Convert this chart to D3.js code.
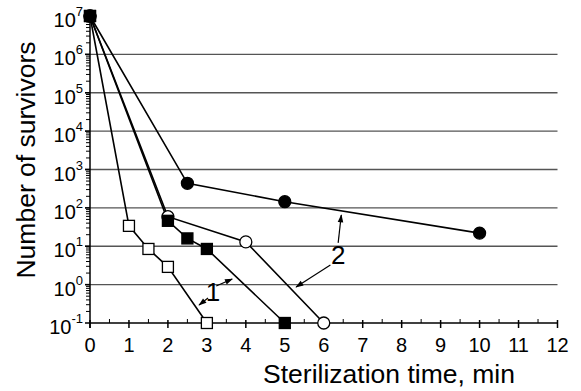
<!DOCTYPE html>
<html>
<head>
<meta charset="utf-8">
<script src="https://cdn.jsdelivr.net/npm/d3@7"></script>
<style>
  body { margin: 0; background: #fff; }
  #chart text { font-family: "Liberation Sans", Arial, sans-serif; fill: #000; }
</style>
</head>
<body>
<svg id="chart" width="581" height="391"></svg>
<script>
// open squares (curve 1, first set)
var timeOpenSq = [0, 1, 1.5, 2, 3];
var countOpenSq = [1e7, 34, 8.5, 2.9, 0.1];
// filled squares (curve 1, second set)
var timeFilledSq = [0, 2, 2.5, 3, 5];
var countFilledSq = [1e7, 46, 16, 8.5, 0.1];
// open circles (curve 2, first set)
var timeOpenCirc = [0, 2, 4, 6];
var countOpenCirc = [1e7, 59, 13, 0.1];
// filled circles (curve 2, second set)
var timeFilledCirc = [0, 2.5, 5, 10];
var countFilledCirc = [1e7, 437, 145, 22];

var xTicks = d3.range(0, 13, 1);
var xMinorTicks = d3.range(0.5, 12, 1);
var yExponents = [-1, 0, 1, 2, 3, 4, 5, 6, 7];

// annotation labels and arrows, in data units [time, count]
var labels = [
  {text: '1', at: [3.16, 0.65]},
  {text: '2', at: [6.37, 5.9]}
];
var arrows = [
  {from: [3.03, 0.448], to: [2.80, 0.294]},
  {from: [3.24, 0.92], to: [3.65, 1.40]},
  {from: [6.37, 12.2], to: [6.45, 65]},
  {from: [6.17, 3.25], to: [5.29, 0.867]}
];

var margin = {top: 16, right: 24, bottom: 68, left: 90},
    width = 581 - margin.left - margin.right,
    height = 391 - margin.top - margin.bottom;

var svg = d3.select('#chart');

svg.append('defs').append('marker')
    .attr('id', 'arrowhead')
    .attr('viewBox', '0 0 10 10')
    .attr('refX', 9).attr('refY', 5)
    .attr('markerWidth', 9).attr('markerHeight', 8)
    .attr('markerUnits', 'userSpaceOnUse')
    .attr('orient', 'auto')
    .append('path')
    .attr('d', 'M 0 1.5 L 10 5 L 0 8.5 z')
    .attr('fill', '#000');

var g = svg.append('g')
    .attr('transform', 'translate(' + margin.left + ',' + margin.top + ')');

var x = d3.scaleLinear().domain([0, 12]).range([0, width + 0.5]);
var y = d3.scaleLog().domain([0.1, 1e7]).range([height, 0]);

// grid lines at each decade
g.append('g').selectAll('line')
    .data(yExponents.filter(function(e) { return e > -1 && e < 7; }))
    .enter().append('line')
    .attr('x1', -5).attr('x2', x(12))
    .attr('y1', function(e) { return y(Math.pow(10, e)); })
    .attr('y2', function(e) { return y(Math.pow(10, e)); })
    .attr('stroke', '#555').attr('stroke-width', 1.4);

// y axis with minor ticks
var minorY = [];
yExponents.slice(0, -1).forEach(function(e) {
  for (var k = 2; k <= 9; k++) minorY.push(k * Math.pow(10, e));
});
var yAxis = g.append('g');
yAxis.append('line')
    .attr('x1', 0).attr('x2', 0).attr('y1', 0).attr('y2', height + 5)
    .attr('stroke', '#000').attr('stroke-width', 1.5);
yAxis.selectAll('.minor').data(minorY).enter().append('line')
    .attr('class', 'minor')
    .attr('x1', -4).attr('x2', 0)
    .attr('y1', function(d) { return y(d); })
    .attr('y2', function(d) { return y(d); })
    .attr('stroke', '#000').attr('stroke-width', 1);
yAxis.selectAll('.major').data(yExponents).enter().append('line')
    .attr('class', 'major')
    .attr('x1', -5).attr('x2', 0)
    .attr('y1', function(e) { return y(Math.pow(10, e)); })
    .attr('y2', function(e) { return y(Math.pow(10, e)); })
    .attr('stroke', '#000').attr('stroke-width', 1.5);
var yLab = yAxis.selectAll('.ylab').data(yExponents).enter().append('text')
    .attr('class', 'ylab')
    .attr('x', -7)
    .attr('y', function(e) { return y(Math.pow(10, e)) + 11; })
    .attr('text-anchor', 'end')
    .style('font-size', '20px');
yLab.append('tspan').text('10');
yLab.append('tspan')
    .attr('dy', -11)
    .style('font-size', '13px')
    .text(function(e) { return e; });

// x axis
var xAxis = g.append('g').attr('transform', 'translate(0,' + height + ')');
xAxis.append('line')
    .attr('x1', 0).attr('x2', x(12))
    .attr('stroke', '#000').attr('stroke-width', 1.5);
xAxis.selectAll('.major').data(xTicks).enter().append('line')
    .attr('class', 'major')
    .attr('x1', function(d) { return x(d); }).attr('x2', function(d) { return x(d); })
    .attr('y1', -3).attr('y2', 5)
    .attr('stroke', '#000').attr('stroke-width', 1.5);
xAxis.selectAll('.minor').data(xMinorTicks).enter().append('line')
    .attr('class', 'minor')
    .attr('x1', function(d) { return x(d); }).attr('x2', function(d) { return x(d); })
    .attr('y1', -4).attr('y2', 0)
    .attr('stroke', '#000').attr('stroke-width', 1);
xAxis.selectAll('text').data(xTicks).enter().append('text')
    .attr('x', function(d) { return x(d); })
    .attr('y', 29)
    .attr('text-anchor', 'middle')
    .style('font-size', '20px')
    .text(function(d) { return d; });

// axis titles
svg.append('text')
    .attr('x', 389).attr('y', 383)
    .attr('text-anchor', 'middle')
    .style('font-size', '26.5px')
    .text('Sterilization time, min');
svg.append('text')
    .attr('transform', 'translate(35,160) rotate(-90)')
    .attr('text-anchor', 'middle')
    .style('font-size', '26.5px')
    .text('Number of survivors');

// series
var series = [
  {t: timeOpenCirc, n: countOpenCirc, shape: 'circle', fill: '#fff'},
  {t: timeFilledCirc, n: countFilledCirc, shape: 'circle', fill: '#000'},
  {t: timeOpenSq, n: countOpenSq, shape: 'square', fill: '#fff'},
  {t: timeFilledSq, n: countFilledSq, shape: 'square', fill: '#000'}
];

var line = d3.line()
    .x(function(d) { return x(d[0]); })
    .y(function(d) { return y(d[1]); });

series.forEach(function(s) {
  var pts = s.t.map(function(t, i) { return [t, s.n[i]]; });
  g.append('path')
      .datum(pts)
      .attr('d', line)
      .attr('fill', 'none')
      .attr('stroke', '#000')
      .attr('stroke-width', 1.6);
});

series.forEach(function(s) {
  var pts = s.t.map(function(t, i) { return [t, s.n[i]]; });
  if (s.shape === 'circle') {
    g.selectAll(null).data(pts).enter().append('circle')
        .attr('cx', function(d) { return x(d[0]); })
        .attr('cy', function(d) { return y(d[1]); })
        .attr('r', 6)
        .attr('fill', s.fill)
        .attr('stroke', '#000').attr('stroke-width', 1.3);
  } else {
    g.selectAll(null).data(pts).enter().append('rect')
        .attr('x', function(d) { return x(d[0]) - 5.5; })
        .attr('y', function(d) { return y(d[1]) - 5.5; })
        .attr('width', 11).attr('height', 11)
        .attr('fill', s.fill)
        .attr('stroke', '#000').attr('stroke-width', 1.3);
  }
});

// annotations
g.selectAll('.arrow').data(arrows).enter().append('line')
    .attr('class', 'arrow')
    .attr('x1', function(d) { return x(d.from[0]); })
    .attr('y1', function(d) { return y(d.from[1]); })
    .attr('x2', function(d) { return x(d.to[0]); })
    .attr('y2', function(d) { return y(d.to[1]); })
    .attr('stroke', '#000').attr('stroke-width', 1.2)
    .attr('marker-end', 'url(#arrowhead)');

g.selectAll('.note').data(labels).enter().append('text')
    .attr('class', 'note')
    .attr('x', function(d) { return x(d.at[0]); })
    .attr('y', function(d) { return y(d.at[1]) + 9; })
    .attr('text-anchor', 'middle')
    .style('font-size', '26px')
    .text(function(d) { return d.text; });
</script>
</body>
</html>
